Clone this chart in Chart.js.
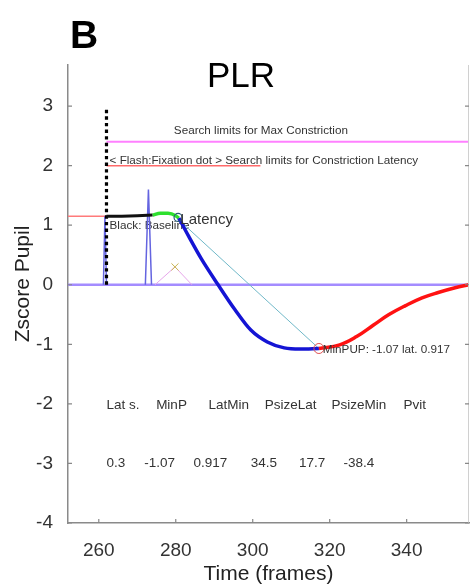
<!DOCTYPE html>
<html><head><meta charset="utf-8">
<script src="https://cdn.jsdelivr.net/npm/chart.js@4/dist/chart.umd.min.js"></script>
<style>html,body{margin:0;padding:0;background:#fff;overflow:hidden}#wrap{width:475px;height:585px}</style>
</head><body><div id="wrap"><canvas id="c" width="475" height="585"></canvas></div>
<script>
// ---- axis ranges and ticks ----
const xMin = 252, xMax = 356.2, yMin = -4, yMax = 3.69;
const xTicks = [260, 280, 300, 320, 340];
const yTicks = [-4, -3, -2, -1, 0, 1, 2, 3];
const xTitle = 'Time (frames)';
const yTitle = 'Zscore Pupil';

// ---- series (frames / z-score) ----
const zeroFrames = [252, 356.2], zeroZ = [0, 0];
const maxLimFrames = [262, 356.2], maxLimZ = [2.4, 2.4];
const latLimFrames = [262, 302], latLimZ = [2.0, 2.0];
const baseRefFrames = [252, 262], baseRefZ = [1.15, 1.15];
const flashFrames = [262, 262], flashZ = [0, 2.97];
const spike1Frames = [261.2, 261.6, 262.0], spike1Z = [0, 1.15, 0];
const spike2Frames = [272.1, 272.9, 273.7], spike2Z = [0, 1.6, 0];
const velFrames = [274.6, 279.8, 284.2], velZ = [0, 0.3, 0];
const velPeakFrame = [279.8], velPeakZ = [0.3];
const baselineFrames = [262, 266, 270, 274], baselineZ = [1.15, 1.15, 1.16, 1.17];
const latencyFrames = [274, 276, 278, 280, 280.8], latencyZ = [1.17, 1.2, 1.2, 1.16, 1.12];
const constrFrames = [280.8, 283.3, 286.7, 291, 295.4, 299.5, 303.8, 308.2, 312.3, 317.2];
const constrZ = [1.12, 0.82, 0.43, 0.0, -0.42, -0.76, -0.96, -1.06, -1.08, -1.07];
const recovFrames = [317.2, 322.6, 327, 331.3, 335.4, 339.7, 344, 348.2, 352.6, 356.2];
const recovZ = [-1.07, -1.01, -0.87, -0.68, -0.50, -0.35, -0.22, -0.13, -0.05, 0.0];
const chordFrames = [280.8, 317.2], chordZ = [1.09, -1.07];
const latPointFrame = [280.6], latPointZ = [1.13];
const minPointFrame = [317.2], minPointZ = [-1.07];

// ---- table text ----
const tableHeaders = ["Lat s.", "MinP", "LatMin", "PsizeLat", "PsizeMin", "Pvit"];
const tableHeaderFrames = [262, 274.9, 288.5, 303.1, 320.5, 339.2];
const tableHeaderZ = -2.03;
const tableValues = ["0.3", "-1.07", "0.917", "34.5", "17.7", "-38.4"];
const tableValueFrames = [262, 271.8, 284.6, 299.5, 312, 323.6];
const tableValueZ = -3.0;

// ---- annotations ----
const notes = [
  {text: "Search limits for Max Constriction", x: 279.5, y: 2.59, size: 11.7},
  {text: "< Flash:Fixation dot > Search limits for Constriction Latency", x: 262.8, y: 2.08, size: 11.7},
  {text: "Latency", x: 281.2, y: 1.09, size: 15},
  {text: "MinPUP: -1.07 lat. 0.917", x: 318.2, y: -1.09, size: 11.7}
];
const underNotes = [
  {text: "Black: Baseline", x: 262.8, y: 0.99, size: 11.7}
];

const FONT = "'Liberation Sans', Arial, Helvetica, sans-serif";
const pts = (xs, ys) => xs.map((x, i) => ({x: x, y: ys[i]}));

function line(label, xs, ys, color, width, extra) {
  return Object.assign({label, data: pts(xs, ys), showLine: true, borderColor: color,
    backgroundColor: color, borderWidth: width, pointRadius: 0, fill: false, tension: 0}, extra || {});
}

const layers = [
  line('zero', zeroFrames, zeroZ, '#a48cff', 2.5),
  line('maxLimit', maxLimFrames, maxLimZ, '#ff80ff', 2),
  line('latLimit', latLimFrames, latLimZ, '#ff6a6a', 1.5),
  line('baseRef', baseRefFrames, baseRefZ, '#ff7a7a', 1.5),
  line('velocity', velFrames, velZ, '#e6a6ea', 1),
  line('spike2', spike2Frames, spike2Z, '#6464e0', 1.5),
  line('spike1', spike1Frames, spike1Z, '#6464e0', 1.5),
  line('flash', flashFrames, flashZ, '#000000', 3.2, {borderDash: [3.4, 3.2]}),
  line('chord', chordFrames, chordZ, '#70b8c8', 1),
  line('baseline', baselineFrames, baselineZ, '#111111', 3),
  line('latency', latencyFrames, latencyZ, '#2ee02e', 3.5, {cubicInterpolationMode: 'monotone'}),
  line('constriction', constrFrames, constrZ, '#1414d4', 3.5, {cubicInterpolationMode: 'monotone'}),
  line('recovery', recovFrames, recovZ, '#ff1212', 3.5, {tension: 0.4}),
  {label: 'velPeak', data: pts(velPeakFrame, velPeakZ), showLine: false, pointStyle: 'crossRot',
    pointRadius: 5, borderColor: '#c8b450', borderWidth: 1},
  {label: 'latPoint', data: pts(latPointFrame, latPointZ), showLine: false, pointStyle: 'circle',
    pointRadius: 4, borderColor: '#2a5c7a', backgroundColor: 'rgba(0,0,0,0)', borderWidth: 1.2},
  {label: 'minPoint', data: pts(minPointFrame, minPointZ), showLine: false, pointStyle: 'circle',
    pointRadius: 5, borderColor: '#e05050', backgroundColor: 'rgba(0,0,0,0)', borderWidth: 1}
];
layers.forEach((d, i) => { d.order = layers.length - i; });

function drawNote(ctx, xs, ys, n, align) {
  ctx.save();
  ctx.font = n.size + 'px ' + FONT;
  ctx.fillStyle = '#333';
  ctx.textAlign = align || 'left';
  ctx.textBaseline = 'middle';
  ctx.fillText(n.text, xs.getPixelForValue(n.x), ys.getPixelForValue(n.y));
  ctx.restore();
}

const decor = {
  id: 'decor',
  beforeDatasetsDraw(chart) {
    const {ctx, scales: {x, y}} = chart;
    underNotes.forEach(n => drawNote(ctx, x, y, n));
  },
  afterDatasetsDraw(chart) {
    const {ctx, scales: {x, y}} = chart;
    notes.forEach(n => drawNote(ctx, x, y, n));
    tableHeaders.forEach((t, i) => drawNote(ctx, x, y, {text: t, x: tableHeaderFrames[i], y: tableHeaderZ, size: 13.5}));
    tableValues.forEach((t, i) => drawNote(ctx, x, y, {text: t, x: tableValueFrames[i], y: tableValueZ, size: 13.5}));
  },
  afterDraw(chart) {
    const {ctx, chartArea: a, scales: {x, y}} = chart;
    ctx.save();
    // right frame edge
    ctx.strokeStyle = '#d0d0d0';
    ctx.lineWidth = 1;
    ctx.beginPath(); ctx.moveTo(a.right - 0.5, a.top); ctx.lineTo(a.right - 0.5, a.bottom); ctx.stroke();
    // inward tick marks
    ctx.strokeStyle = '#888';
    ctx.lineWidth = 1.2;
    ctx.beginPath();
    x.ticks.forEach(t => { const p = x.getPixelForValue(t.value); ctx.moveTo(p, a.bottom); ctx.lineTo(p, a.bottom - 4); });
    y.ticks.forEach(t => { const p = y.getPixelForValue(t.value);
      ctx.moveTo(a.left, p); ctx.lineTo(a.left + 4, p);
      ctx.moveTo(a.right, p); ctx.lineTo(a.right - 4, p); });
    ctx.stroke();
    // y axis title
    ctx.fillStyle = '#222';
    ctx.font = '21px ' + FONT;
    ctx.textAlign = 'center';
    ctx.textBaseline = 'middle';
    ctx.translate(23, 284);
    ctx.rotate(-Math.PI / 2);
    ctx.fillText(yTitle, 0, 0);
    ctx.setTransform(1, 0, 0, 1, 0, 0);
    // panel letter and title
    ctx.fillStyle = '#000';
    ctx.textBaseline = 'alphabetic';
    ctx.font = 'bold 39px ' + FONT;
    ctx.textAlign = 'left';
    ctx.fillText('B', 70, 48);
    ctx.font = '35px ' + FONT;
    ctx.textAlign = 'center';
    ctx.fillText('PLR', 241, 87);
    ctx.restore();
  }
};

new Chart(document.getElementById('c'), {
  type: 'scatter',
  data: {datasets: layers},
  plugins: [decor],
  options: {
    responsive: false, animation: false, devicePixelRatio: 1,
    layout: {padding: {top: 65, right: 1, left: 0, bottom: 0}},
    plugins: {legend: {display: false}, tooltip: {enabled: false}, title: {display: false}},
    scales: {
      x: {
        type: 'linear', min: xMin, max: xMax,
        afterBuildTicks: s => { s.ticks = xTicks.map(v => ({value: v})); },
        afterFit: s => { s.height = 62; },
        grid: {display: false},
        border: {display: true, color: '#8a8a8a', width: 1.5},
        ticks: {padding: 8, color: '#333', font: {family: FONT, size: 19}, maxRotation: 0},
        title: {display: true, text: xTitle, color: '#222', padding: {top: 0, bottom: 0},
          font: {family: FONT, size: 21, lineHeight: 1}}
      },
      y: {
        type: 'linear', min: yMin, max: yMax,
        afterBuildTicks: s => { s.ticks = yTicks.map(v => ({value: v})); },
        afterFit: s => { s.width = 68; },
        grid: {display: false},
        border: {display: true, color: '#8a8a8a', width: 1.5},
        ticks: {padding: 7, color: '#333', font: {family: FONT, size: 19}},
        title: {display: false}
      }
    }
  }
});
</script></body></html>
